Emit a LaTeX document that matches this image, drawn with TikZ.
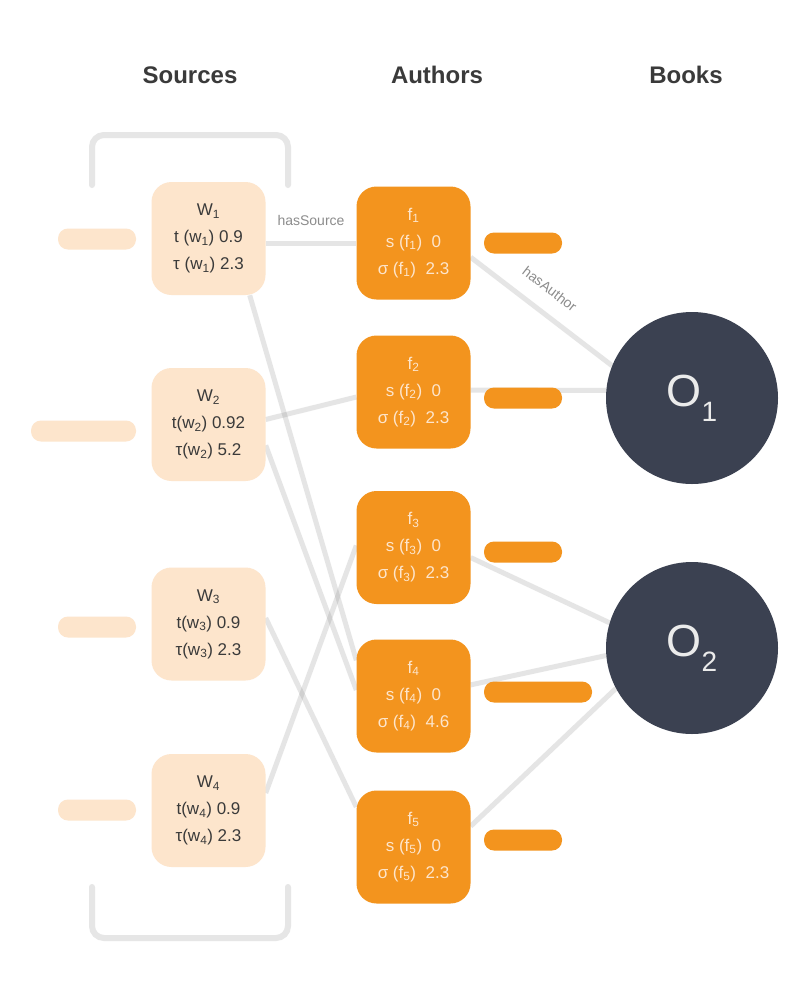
\documentclass[tikz,border=0pt]{standalone}
\usepackage{fontspec}
\setmainfont{Liberation Sans}
\usetikzlibrary{backgrounds}
\definecolor{peach}{RGB}{253,229,204}
\definecolor{authorange}{RGB}{243,148,30}
\definecolor{bookslate}{RGB}{59,65,81}
\definecolor{inkgray}{RGB}{58,58,58}
\definecolor{linkgray}{RGB}{230,230,230}

\begin{document}
\begin{tikzpicture}[x=1pt,y=-1pt,%画素単位, y下向き
  title/.style={font=\fontsize{24}{28}\selectfont\bfseries, text=inkgray},
  source/.style={fill=peach, rounded corners=20pt, minimum width=114pt, minimum height=113pt,
    align=center, text=inkgray, font=\fontsize{17}{27}\selectfont},
  author/.style={source, fill=authorange, text=peach},
  book/.style={circle, fill=bookslate, minimum size=172pt, inner sep=0pt, text=black!8},
  srcbar/.style={fill=peach, rounded corners=10pt, minimum height=21pt, inner sep=0pt},
  autbar/.style={srcbar, fill=authorange},
  link/.style={line width=5pt, draw=black!55, draw opacity=0.18},
  bracket/.style={line width=6pt, draw=linkgray, rounded corners=12pt, line cap=round},
  edgelabel/.style={font=\fontsize{14}{14}\selectfont, text=black!45}]
                \useasboundingbox (0,0) rectangle (800,999);%枠
                % 見出し
                \node[title] (srctitle) at (190,75) {Sources};
                \node[title] (auttitle) at (437,75) {Authors};
                \node[title] (booktitle) at (686,75) {Books};
                % Sources
                \node[source] (w1) at (208.5,238.5) {W\textsubscript{1}\\t (w\textsubscript{1}) 0.9\\τ (w\textsubscript{1}) 2.3};
                \node[source] (w2) at (208.5,424.5) {W\textsubscript{2}\\t(w\textsubscript{2}) 0.92\\τ(w\textsubscript{2}) 5.2};
                \node[source] (w3) at (208.5,624) {W\textsubscript{3}\\t(w\textsubscript{3}) 0.9\\τ(w\textsubscript{3}) 2.3};
                \node[source] (w4) at (208.5,810.5) {W\textsubscript{4}\\t(w\textsubscript{4}) 0.9\\τ(w\textsubscript{4}) 2.3};
                \node[srcbar, minimum width=78pt] (w1bar) at (97,239) {};
                \node[srcbar, minimum width=105pt] (w2bar) at (83.5,431) {};
                \node[srcbar, minimum width=78pt] (w3bar) at (97,627) {};
                \node[srcbar, minimum width=78pt] (w4bar) at (97,810) {};
                % Authors
                \node[author] (f1) at (413.5,243) {f\textsubscript{1}\\s (f\textsubscript{1})\ \ 0\\σ (f\textsubscript{1})\ \ 2.3};
                \node[author] (f2) at (413.5,392) {f\textsubscript{2}\\s (f\textsubscript{2})\ \ 0\\σ (f\textsubscript{2})\ \ 2.3};
                \node[author] (f3) at (413.5,547.5) {f\textsubscript{3}\\s (f\textsubscript{3})\ \ 0\\σ (f\textsubscript{3})\ \ 2.3};
                \node[author] (f4) at (413.5,696) {f\textsubscript{4}\\s (f\textsubscript{4})\ \ 0\\σ (f\textsubscript{4})\ \ 4.6};
                \node[author] (f5) at (413.5,847) {f\textsubscript{5}\\s (f\textsubscript{5})\ \ 0\\σ (f\textsubscript{5})\ \ 2.3};
                \node[autbar, minimum width=78pt] (f1bar) at (523,243) {};
                \node[autbar, minimum width=78pt] (f2bar) at (523,398) {};
                \node[autbar, minimum width=78pt] (f3bar) at (523,552) {};
                \node[autbar, minimum width=108pt] (f4bar) at (538,692) {};
                \node[autbar, minimum width=78pt] (f5bar) at (523,840) {};
                % Books
                \node[book] (o1) at (692,398) {{\fontsize{45}{45}\selectfont O}\raisebox{-15pt}{\fontsize{28}{28}\selectfont 1}};
                \node[book] (o2) at (692,648) {{\fontsize{45}{45}\selectfont O}\raisebox{-15pt}{\fontsize{28}{28}\selectfont 2}};
                % 線
                \begin{scope}[on background layer]
                \fill[white] (0,0) rectangle (800,999);
                \draw[bracket] (92,185) -- (92,135) -- (288,135) -- (288,185);%上
                \draw[bracket] (92,887) -- (92,938) -- (288,938) -- (288,887);%下
                \draw[link] (w1.east |- f1.west) -- node[edgelabel, above=12pt] {hasSource} (f1.west);
                \draw[link] (w1.-54) -- (f4.148);
                \draw[link] (w2.5) -- (f2.185);
                \draw[link] (w2.-20) -- (f4.174);
                \draw[link] (w3.6) -- (f5.145);
                \draw[link] (w4.17) -- (f3.178);
                \draw[link] (f1.-14) -- node[edgelabel, pos=0.46, sloped, above=12pt] {hasAuthor} (o1.158);
                \draw[link] (f2.2) -- (o1.175);
                \draw[link] (f3.-10) -- (o2.163);
                \draw[link] (f4.11) -- (o2.185);
                \draw[link] (f5.20) -- (o2.208);
                \end{scope}
            \end{tikzpicture}
\end{document}
